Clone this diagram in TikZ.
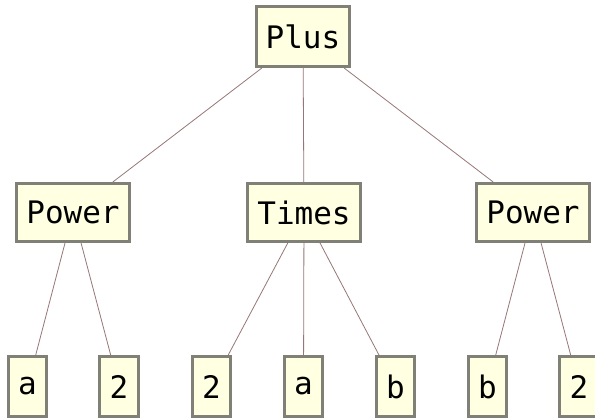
\documentclass[tikz,border=0pt]{standalone}
\usepackage{fontspec}
\setmonofont{DejaVu Sans Mono}
\definecolor{boxfill}{RGB}{255,255,226}
\definecolor{boxedge}{RGB}{128,128,118}
\definecolor{edgecol}{RGB}{150,118,118}
\begin{document}
\begin{tikzpicture}[x=1pt,y=-1pt,
  tnode/.style={draw=boxedge,fill=boxfill,line width=2.6pt,inner sep=0pt,
    font=\fontsize{31}{34}\selectfont\ttfamily,minimum height=58.5pt},
  wide/.style={tnode,minimum width=113.5pt},
  plusbox/.style={tnode,minimum width=93.5pt,minimum height=60.5pt},
  leaf/.style={tnode,minimum width=38.5pt,minimum height=60.5pt},
  conn/.style={draw=edgecol,line width=0.8pt}]
\useasboundingbox (0,0) rectangle (595,419);
\clip (0,0) rectangle (595,419);
\node[plusbox] (plus) at (303,36.5) {Plus};
\node[wide] (pl) at (73,212.5) {Power};
\node[wide] (tm) at (304,212.5) {Times};
\node[wide] (pr) at (533,212.5) {Power};
\node[leaf] (l1) at (27.5,386.5) {a};
\node[leaf] (l2) at (119,386.5) {2};
\node[leaf] (l3) at (211.5,386.5) {2};
\node[leaf] (l4) at (303.5,386.5) {a};
\node[leaf] (l5) at (395.5,386.5) {b};
\node[leaf] (l6) at (487.5,386.5) {b};
\node[leaf] (l7) at (579,386.5) {2};
\draw[conn] (plus) -- (pl);
\draw[conn] (plus) -- (tm);
\draw[conn] (plus) -- (pr);
\draw[conn] (pl) -- (l1);
\draw[conn] (pl) -- (l2);
\draw[conn] (tm) -- (l3);
\draw[conn] (tm) -- (l4);
\draw[conn] (tm) -- (l5);
\draw[conn] (pr) -- (l6);
\draw[conn] (pr) -- (l7);
\end{tikzpicture}
\end{document}
